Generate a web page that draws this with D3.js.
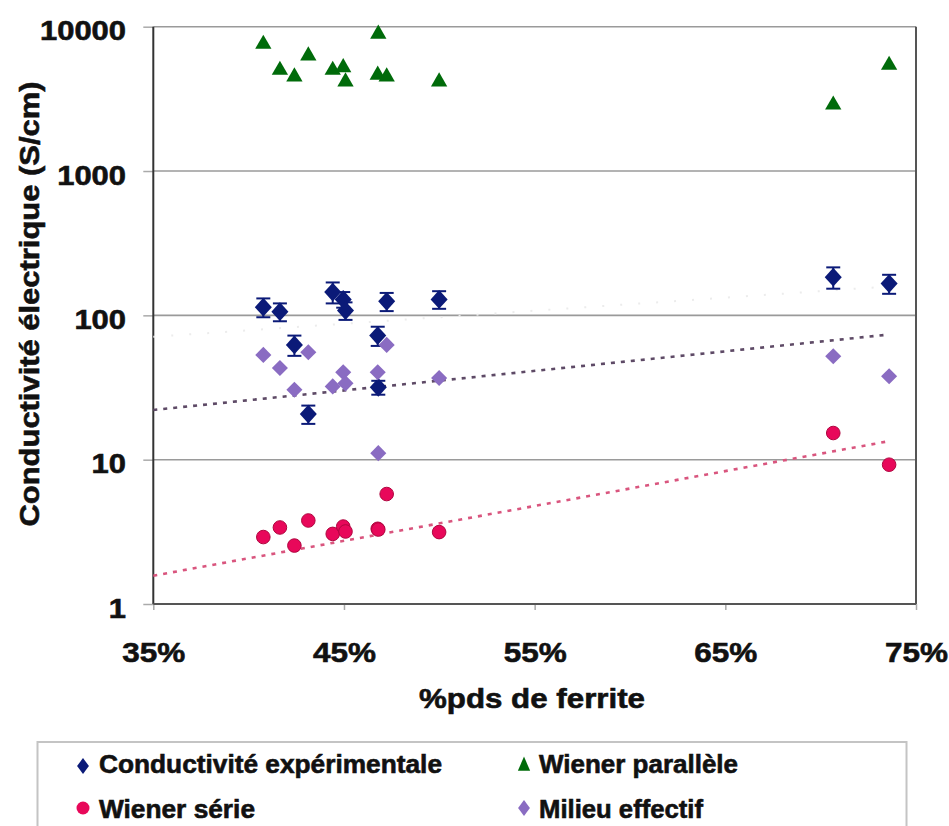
<!DOCTYPE html>
<html><head><meta charset="utf-8">
<script src="https://cdn.jsdelivr.net/npm/d3@7"></script>
<style>
html,body{margin:0;padding:0;background:#fff;}
text{font-family:"Liberation Sans",Arial,Helvetica,sans-serif;font-weight:bold;fill:#111;stroke:#111;stroke-width:0.6px;}
</style></head>
<body>
<svg id="chart" width="949" height="826"></svg>
<script>
// ---- data ----
const ferrite = [40.77, 41.64, 42.40, 43.13, 44.41, 44.96, 45.08, 46.77, 46.80, 47.24, 49.99, 70.66, 73.59];
const experimental = [114, 106, 62.4, 20.7, 145, 129, 108, 72.4, 31.7, 125, 129, 184, 166];
const experimentalErr = [17, 15, 10, 3, 24, 16, 15, 11, 3.5, 18, 18, 31, 25];
const wienerParallele = [7700, 5080, 4570, 6390, 5080, 5300, 4220, 4700, 9040, 4570, 4220, 2920, 5510];
const wienerSerie = [2.91, 3.39, 2.54, 3.79, 3.06, 3.44, 3.18, 3.32, 3.28, 5.78, 3.15, 15.3, 9.23];
const milieuEffectif = [53.2, 43.2, 30.5, 55.5, 32.2, 40.3, 33.8, 40.3, 11.1, 62.4, 36.8, 52.1, 37.8];
const trendMilieu = [[35, 22.1], [73.4, 73.2]];
const trendSerie = [[35, 1.57], [73.4, 13.3]];
const trendExp = [[35, 71], [73.4, 158]];
const xTicks = [35, 45, 55, 65, 75];
const yTicks = [1, 10, 100, 1000, 10000];
const legendLabels = ["Conductivité expérimentale", "Wiener parallèle", "Wiener série", "Milieu effectif"];

// ---- layout ----
const svg = d3.select("#chart");
const L = 153.3, R = 916, T = 26.7, B = 604;
const x = d3.scaleLinear().domain([35, 75]).range([L, R]);
const y = d3.scaleLog().domain([1, 10000]).range([B, T]);

const cNavy = "#0b1a78", cGreen = "#006b0a", cPink = "#e8085a", cLav = "#8a6cc2";

// gridlines
svg.append("g").selectAll("line").data(yTicks.slice(1)).join("line")
  .attr("x1", L).attr("x2", R).attr("y1", d => y(d)).attr("y2", d => y(d))
  .attr("stroke", "#9a9a9a").attr("stroke-width", 1.6);

// axes
const yAxis = d3.axisLeft(y).tickValues(yTicks).tickFormat(d3.format("d")).tickSize(10).tickPadding(0);
const gy = svg.append("g").attr("transform", `translate(${L},0)`).call(yAxis);
gy.select(".domain").remove();
gy.selectAll(".tick line").attr("stroke", "#aaa").attr("stroke-width", 1.5);
gy.selectAll(".tick text").attr("x", 126 - L).attr("dy", null).attr("y", 13)
  .attr("text-anchor", "end").style("font-size", "27px")
  .attr("textLength", d => String(d).length * 17.2).attr("lengthAdjust", "spacingAndGlyphs");

const xAxis = d3.axisBottom(x).tickValues(xTicks).tickFormat(d => d + "%").tickSize(6).tickPadding(0);
const gx = svg.append("g").attr("transform", `translate(0,${B})`).call(xAxis);
gx.select(".domain").remove();
gx.selectAll(".tick line").attr("stroke", "#aaa").attr("stroke-width", 1.5);
gx.selectAll(".tick text").attr("dy", null).attr("y", 58).style("font-size", "28px")
  .attr("textLength", 63).attr("lengthAdjust", "spacingAndGlyphs");

// frame
svg.append("line").attr("x1", L).attr("x2", L).attr("y1", T).attr("y2", B).attr("stroke", "#333").attr("stroke-width", 2);
svg.append("line").attr("x1", L).attr("x2", R).attr("y1", B).attr("y2", B).attr("stroke", "#555").attr("stroke-width", 2);
svg.append("line").attr("x1", R).attr("x2", R).attr("y1", T).attr("y2", B).attr("stroke", "#555").attr("stroke-width", 2);

// trendlines
const line = d3.line().x(d => x(d[0])).y(d => y(d[1]));
svg.append("path").attr("d", line(trendExp)).attr("fill", "none")
  .attr("stroke", "#ececec").attr("stroke-width", 2).attr("stroke-dasharray", "2,16");
svg.append("path").attr("d", line(trendMilieu)).attr("fill", "none")
  .attr("stroke", "#5e4a66").attr("stroke-width", 2.6).attr("stroke-dasharray", "4,6");
svg.append("path").attr("d", line(trendSerie)).attr("fill", "none")
  .attr("stroke", "#d9557e").attr("stroke-width", 2.6).attr("stroke-dasharray", "4,6");

// symbols
const diamond = d3.symbol().type(d3.symbolDiamond2).size(185);
const triangle = d3.symbol().type(d3.symbolTriangle).size(115);

// experimental with error bars
const expData = ferrite.map((f, i) => ({f, v: experimental[i], e: experimentalErr[i]}));
const ge = svg.append("g");
ge.selectAll("line.bar").data(expData).join("line").attr("class", "bar")
  .attr("x1", d => x(d.f)).attr("x2", d => x(d.f))
  .attr("y1", d => y(d.v + d.e)).attr("y2", d => y(d.v - d.e))
  .attr("stroke", cNavy).attr("stroke-width", 2);
["top", "bot"].forEach(k => {
  ge.selectAll("line.cap" + k).data(expData).join("line").attr("class", "cap" + k)
    .attr("x1", d => x(d.f) - 7).attr("x2", d => x(d.f) + 7)
    .attr("y1", d => y(k === "top" ? d.v + d.e : d.v - d.e))
    .attr("y2", d => y(k === "top" ? d.v + d.e : d.v - d.e))
    .attr("stroke", cNavy).attr("stroke-width", 2);
});
ge.selectAll("path").data(expData).join("path")
  .attr("d", diamond).attr("transform", d => `translate(${x(d.f)},${y(d.v)}) scale(1,1.1)`)
  .attr("fill", cNavy);

// Wiener parallèle
svg.append("g").selectAll("path").data(ferrite.map((f, i) => [f, wienerParallele[i]])).join("path")
  .attr("d", triangle).attr("transform", d => `translate(${x(d[0])},${y(d[1]) + 1})`)
  .attr("fill", cGreen);

// Wiener série
svg.append("g").selectAll("circle").data(ferrite.map((f, i) => [f, wienerSerie[i]])).join("circle")
  .attr("cx", d => x(d[0])).attr("cy", d => y(d[1])).attr("r", 6.8)
  .attr("fill", cPink).attr("stroke", "#b0063f").attr("stroke-width", 1);

// Milieu effectif
svg.append("g").selectAll("path").data(ferrite.map((f, i) => [f, milieuEffectif[i]])).join("path")
  .attr("d", d3.symbol().type(d3.symbolDiamond2).size(165))
  .attr("transform", d => `translate(${x(d[0])},${y(d[1])})`)
  .attr("fill", cLav);

// axis titles
svg.append("text").attr("transform", "translate(39,304) rotate(-90)")
  .attr("text-anchor", "middle").style("font-size", "28px")
  .attr("textLength", 445).attr("lengthAdjust", "spacingAndGlyphs")
  .text("Conductivité électrique (S/cm)");
svg.append("text").attr("x", 532).attr("y", 708)
  .attr("text-anchor", "middle").style("font-size", "28px")
  .attr("textLength", 226).attr("lengthAdjust", "spacingAndGlyphs")
  .text("%pds de ferrite");

// legend
svg.append("rect").attr("x", 37.5).attr("y", 742).attr("width", 869).attr("height", 100)
  .attr("fill", "none").attr("stroke", "#c4c4c4").attr("stroke-width", 2);
const legendItems = [
  {label: legendLabels[0], mx: 83, my: 766, tx: 99, ty: 773, w: 343, kind: "diamond", color: cNavy},
  {label: legendLabels[1], mx: 524, my: 766, tx: 539, ty: 773, w: 199, kind: "triangle", color: cGreen},
  {label: legendLabels[2], mx: 83, my: 808, tx: 99, ty: 818, w: 156, kind: "circle", color: cPink},
  {label: legendLabels[3], mx: 524, my: 808, tx: 539, ty: 818, w: 164, kind: "diamond", color: cLav}
];
const lg = svg.append("g");
legendItems.forEach(it => {
  if (it.kind === "circle") {
    lg.append("circle").attr("cx", it.mx).attr("cy", it.my).attr("r", 6.5).attr("fill", it.color);
  } else {
    const sym = it.kind === "diamond" ? d3.symbol().type(d3.symbolDiamond2).size(110) : d3.symbol().type(d3.symbolTriangle).size(80);
    lg.append("path").attr("d", sym).attr("transform", `translate(${it.mx},${it.my}) scale(0.9,1.2)`).attr("fill", it.color);
  }
  lg.append("text").attr("x", it.tx).attr("y", it.ty).style("font-size", "25px")
    .attr("textLength", it.w).attr("lengthAdjust", "spacingAndGlyphs").text(it.label);
});
</script>
</body></html>
